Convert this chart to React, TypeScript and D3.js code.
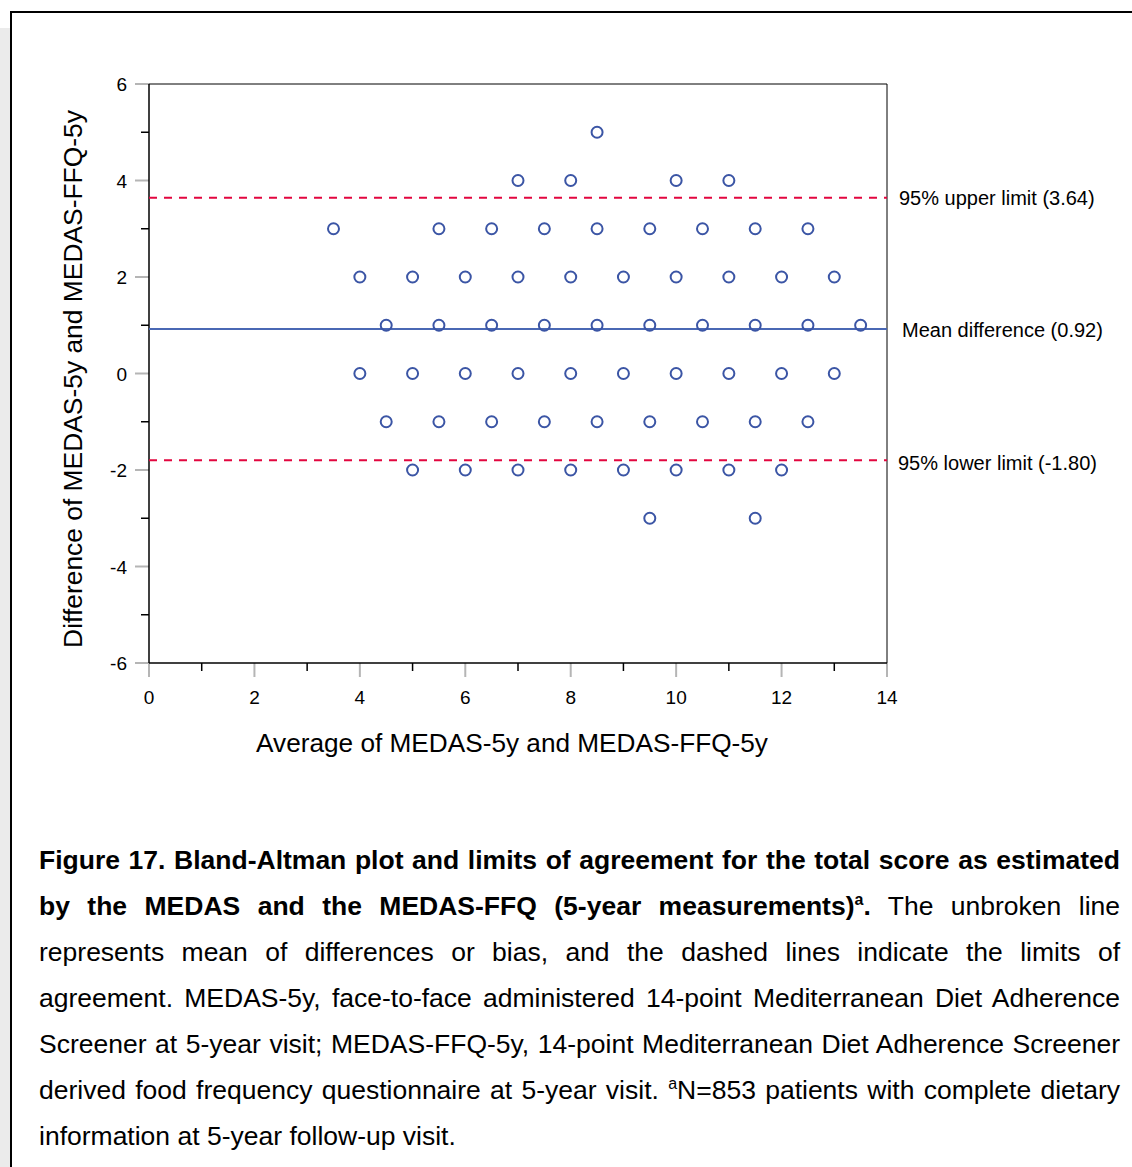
import React, { useEffect, useRef } from "react";
import * as d3 from "d3";

// ---- data ----
const pointX: number[] = [
  8.5,
  7, 8, 10, 11,
  3.5, 5.5, 6.5, 7.5, 8.5, 9.5, 10.5, 11.5, 12.5,
  4, 5, 6, 7, 8, 9, 10, 11, 12, 13,
  4.5, 5.5, 6.5, 7.5, 8.5, 9.5, 10.5, 11.5, 12.5, 13.5,
  4, 5, 6, 7, 8, 9, 10, 11, 12, 13,
  4.5, 5.5, 6.5, 7.5, 8.5, 9.5, 10.5, 11.5, 12.5,
  5, 6, 7, 8, 9, 10, 11, 12,
  9.5, 11.5,
];
const pointY: number[] = [
  5,
  4, 4, 4, 4,
  3, 3, 3, 3, 3, 3, 3, 3, 3,
  2, 2, 2, 2, 2, 2, 2, 2, 2, 2,
  1, 1, 1, 1, 1, 1, 1, 1, 1, 1,
  0, 0, 0, 0, 0, 0, 0, 0, 0, 0,
  -1, -1, -1, -1, -1, -1, -1, -1, -1,
  -2, -2, -2, -2, -2, -2, -2, -2,
  -3, -3,
];
const meanDiff = 0.92;
const upperLimit = 3.64;
const lowerLimit = -1.8;
const refLabels: string[] = [
  "95% upper limit (3.64)",
  "Mean difference (0.92)",
  "95% lower limit (-1.80)",
];
const xTicks: number[] = [0, 2, 4, 6, 8, 10, 12, 14];
const xMinorTicks: number[] = [1, 3, 5, 7, 9, 11, 13];
const yTicks: number[] = [-6, -4, -2, 0, 2, 4, 6];
const yMinorTicks: number[] = [-5, -3, -1, 1, 3, 5];
const xTitle = "Average of MEDAS-5y and MEDAS-FFQ-5y";
const yTitle = "Difference of MEDAS-5y and MEDAS-FFQ-5y";

type Seg = { t: string; b?: boolean; sup?: boolean };
const captionLines: Seg[][] = [
  [{ t: "Figure 17. Bland-Altman plot and limits of agreement for the total score as estimated", b: true }],
  [
    { t: "by the MEDAS and the MEDAS-FFQ (5-year measurements)", b: true },
    { t: "a", b: true, sup: true },
    { t: ".", b: true },
    { t: " The unbroken line" },
  ],
  [{ t: "represents mean of differences or bias, and the dashed lines indicate the limits of" }],
  [{ t: "agreement. MEDAS-5y, face-to-face administered 14-point Mediterranean Diet Adherence" }],
  [{ t: "Screener at 5-year visit; MEDAS-FFQ-5y, 14-point Mediterranean Diet Adherence Screener" }],
  [
    { t: "derived food frequency questionnaire at 5-year visit. " },
    { t: "a", sup: true },
    { t: "N=853 patients with complete dietary" },
  ],
  [{ t: "information at 5-year follow-up visit." }],
];

const FONT = "'Liberation Sans', Arial, Helvetica, sans-serif";

export default function App() {
  const svgRef = useRef<SVGSVGElement | null>(null);

  const x = d3.scaleLinear().domain([0, 14]).range([149, 887]);
  const y = d3.scaleLinear().domain([-6, 6]).range([663, 84]);

  const capLeft = 39;
  const capRight = 1120;
  const capTop = 869;
  const capStep = 46;
  const capSize = 26.5;

  useEffect(() => {
    if (!svgRef.current) return;
    d3.select(svgRef.current)
      .selectAll<SVGTextElement, unknown>("text.justify")
      .each(function () {
        const el = this as SVGTextElement;
        el.setAttribute("word-spacing", "0");
        const w = el.getComputedTextLength();
        const txt = el.textContent || "";
        const spaces = (txt.match(/ /g) || []).length;
        if (spaces > 0) {
          const extra = (capRight - capLeft - w) / spaces;
          el.setAttribute("word-spacing", String(extra));
        }
      });
  }, []);

  return (
    <svg
      ref={svgRef}
      width={1132}
      height={1167}
      style={{ position: "absolute", left: 0, top: 0, background: "#fff" }}
      fontFamily={FONT}
    >
      {/* page background strip and frame */}
      <rect x={0} y={28} width={10} height={1167 - 28} fill="#ebebeb" />
      <rect x={11} y={12} width={1140} height={1180} fill="#fff" stroke="#000" strokeWidth={2} />

      {/* plot box */}
      <line x1={x(0)} x2={x(14)} y1={y(6)} y2={y(6)} stroke="#000" strokeWidth={1} />
      <line x1={x(14)} x2={x(14)} y1={y(6)} y2={y(-6)} stroke="#000" strokeWidth={1} />

      {/* y ticks */}
      {yTicks.map((v) => (
        <g key={"yt" + v}>
          <line x1={x(0) - 14} x2={x(0)} y1={y(v)} y2={y(v)} stroke="#b5b5b5" strokeWidth={2} />
          <text x={127} y={y(v) + 7} textAnchor="end" fontSize={19} fill="#000">
            {v}
          </text>
        </g>
      ))}
      {yMinorTicks.map((v) => (
        <line key={"ym" + v} x1={x(0) - 8} x2={x(0)} y1={y(v)} y2={y(v)} stroke="#000" strokeWidth={1.5} />
      ))}

      {/* x ticks */}
      {xTicks.map((v) => (
        <g key={"xt" + v}>
          <line x1={x(v)} x2={x(v)} y1={y(-6)} y2={y(-6) + 14} stroke="#b5b5b5" strokeWidth={2} />
          <text x={x(v)} y={704} textAnchor="middle" fontSize={19} fill="#000">
            {v}
          </text>
        </g>
      ))}
      {xMinorTicks.map((v) => (
        <line key={"xm" + v} x1={x(v)} x2={x(v)} y1={y(-6)} y2={y(-6) + 8} stroke="#000" strokeWidth={1.5} />
      ))}

      {/* axis lines */}
      <line x1={x(0)} x2={x(0)} y1={y(6)} y2={y(-6)} stroke="#000" strokeWidth={1.5} />
      <line x1={x(0)} x2={x(14)} y1={y(-6)} y2={y(-6)} stroke="#000" strokeWidth={1.5} />

      {/* reference lines */}
      <line x1={x(0)} x2={x(14)} y1={y(upperLimit)} y2={y(upperLimit)} stroke="#e2063f" strokeWidth={2} strokeDasharray="8,7" />
      <line x1={x(0)} x2={x(14)} y1={y(lowerLimit)} y2={y(lowerLimit)} stroke="#e2063f" strokeWidth={2} strokeDasharray="8,7" />
      <line x1={x(0)} x2={x(14)} y1={y(meanDiff)} y2={y(meanDiff)} stroke="#4a68b4" strokeWidth={2} />

      {/* points */}
      {pointX.map((px, i) => (
        <circle key={"p" + i} cx={x(px)} cy={y(pointY[i])} r={5.5} fill="none" stroke="#3b55a5" strokeWidth={2} />
      ))}

      {/* reference labels */}
      <text x={899} y={y(upperLimit) + 7} fontSize={20} fill="#000">{refLabels[0]}</text>
      <text x={902} y={y(meanDiff) + 8} fontSize={20} fill="#000">{refLabels[1]}</text>
      <text x={898} y={y(lowerLimit) + 10} fontSize={20} fill="#000">{refLabels[2]}</text>

      {/* axis titles */}
      <text x={512} y={752} textAnchor="middle" fontSize={26.2} fill="#000">{xTitle}</text>
      <text transform={`translate(82,379) rotate(-90)`} textAnchor="middle" fontSize={26.4} fill="#000">
        {yTitle}
      </text>

      {/* caption */}
      {captionLines.map((segs, li) => (
        <text
          key={"c" + li}
          className={li < captionLines.length - 1 ? "justify" : undefined}
          x={capLeft}
          y={capTop + li * capStep}
          fontSize={capSize}
          fill="#000"
          style={{ whiteSpace: "pre" }}
        >
          {segs.map((s, si) => (
            <tspan
              key={si}
              fontWeight={s.b ? "bold" : "normal"}
              fontSize={s.sup ? 16 : capSize}
              dy={s.sup ? -10 : si > 0 && segs[si - 1].sup ? 10 : 0}
            >
              {s.t}
            </tspan>
          ))}
        </text>
      ))}
    </svg>
  );
}
